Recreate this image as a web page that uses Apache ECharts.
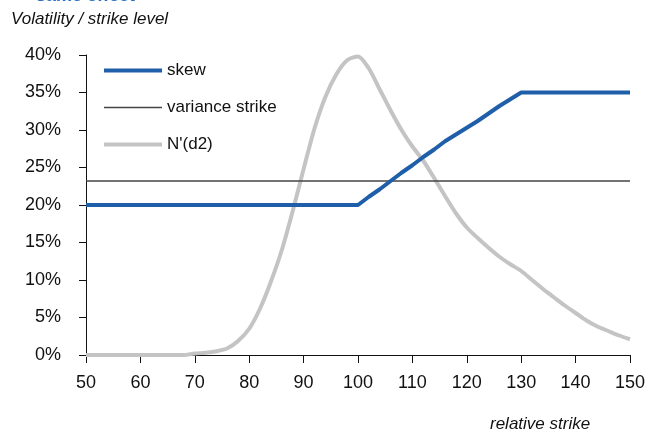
<!DOCTYPE html>
<html>
<head>
  <meta charset="UTF-8">
  <title>skew vs variance strike</title>
  <script src="https://cdn.jsdelivr.net/npm/echarts@6/dist/echarts.min.js"></script>
  <style>
    html, body { margin: 0; padding: 0; background: #fff; }
    #chart { width: 649px; height: 434px; }
  </style>
</head>
<body>
  <div id="chart"></div>
  <script>
    // relative strike levels
    const strikes = [50, 52, 54, 56, 58, 60, 62, 64, 66, 68, 70, 72, 74, 76, 78, 80, 82, 84, 86, 88,
      90, 92, 94, 96, 98, 100, 102, 104, 106, 108, 110, 112, 114, 116, 118, 120, 122, 124, 126, 128,
      130, 132, 134, 136, 138, 140, 142, 144, 146, 148, 150]

    // skew (vol %)
    const skew = [20, 20, 20, 20, 20, 20, 20, 20, 20, 20, 20, 20, 20, 20, 20, 20, 20, 20, 20, 20,
      20, 20, 20, 20, 20, 20, 21.1, 22.1, 23.2, 24.3, 25.3, 26.4, 27.4, 28.5, 29.4, 30.3, 31.2, 32.2, 33.2, 34.1,
      35, 35, 35, 35, 35, 35, 35, 35, 35, 35, 35]

    // N'(d2) scaled
    const nd2 = [0, 0, 0, 0, 0, 0, 0, 0, 0, 0, 0.2, 0.3, 0.5, 0.9, 1.9, 3.5, 6.2, 9.8, 14.0, 19.2,
      24.8, 30.2, 34.4, 37.4, 39.3, 39.8, 38.2, 35.4, 32.6, 30.0, 27.8, 25.9, 23.6, 21.2, 18.9, 17.0, 15.6, 14.3, 13.1, 12.1,
      11.2, 10.0, 8.8, 7.7, 6.6, 5.6, 4.6, 3.8, 3.2, 2.6, 2.1]

    const varianceStrike = 23.2
    const xTicks = { min: 50, max: 150, step: 10 }
    const yTicks = { min: 0, max: 40, step: 5 }

    const font = "'Liberation Sans', Arial, sans-serif"
    const blue = '#1f5ea8'
    const dark = '#444'
    const grey = '#c4c4c4'

    const chart = echarts.init(document.getElementById('chart'))
    const option = {
      animation: false,
      textStyle: { fontFamily: font },
      graphic: [
        {
          type: 'text', left: 36, top: -13,
          style: { text: 'same effect', fill: '#2a6dbf', font: "bold 18px 'Liberation Sans', Arial" }
        },
        {
          type: 'text', left: 11, top: 11,
          style: { text: 'Volatility / strike level', fill: '#111', font: "italic 17px 'Liberation Sans', Arial" }
        },
        {
          type: 'text', left: 490, top: 416,
          style: { text: 'relative strike', fill: '#111', font: "italic 17px 'Liberation Sans', Arial" }
        }
      ],
      legend: {
        orient: 'vertical',
        left: 97,
        top: 57,
        itemWidth: 58,
        itemHeight: 14,
        itemGap: 20,
        itemStyle: { opacity: 0 },
        textStyle: { fontSize: 17, color: '#111', fontFamily: font },
        data: [
          { name: 'skew', lineStyle: { color: blue, width: 4 } },
          { name: 'variance strike', lineStyle: { color: dark, width: 1.5 } },
          { name: "N'(d2)", lineStyle: { color: grey, width: 4 } }
        ]
      },
      grid: { left: 86, right: 19, top: 55, bottom: 79 },
      xAxis: {
        type: 'value',
        min: xTicks.min,
        max: xTicks.max,
        interval: xTicks.step,
        axisLine: { lineStyle: { color: '#111', width: 1 } },
        axisTick: { length: 8, lineStyle: { color: '#111' } },
        axisLabel: { margin: 19, fontSize: 18, color: '#111', fontFamily: font },
        splitLine: { show: false }
      },
      yAxis: {
        type: 'value',
        min: yTicks.min,
        max: yTicks.max,
        interval: yTicks.step,
        axisLine: { show: true, lineStyle: { color: '#111', width: 1 } },
        axisTick: { show: true, length: 7, lineStyle: { color: '#111' } },
        axisLabel: { margin: 25, fontSize: 18, color: '#111', fontFamily: font, formatter: '{value}%' },
        splitLine: { show: false }
      },
      series: [
        {
          name: 'skew',
          type: 'line',
          showSymbol: false,
          symbol: 'none',
          data: strikes.map((s, i) => [s, skew[i]]),
          lineStyle: { color: blue, width: 4 },
          itemStyle: { color: blue },
          z: 3
        },
        {
          name: 'variance strike',
          type: 'line',
          showSymbol: false,
          symbol: 'none',
          data: [[xTicks.min, varianceStrike], [xTicks.max, varianceStrike]],
          lineStyle: { color: dark, width: 1.5 },
          itemStyle: { color: dark },
          z: 2
        },
        {
          name: "N'(d2)",
          type: 'line',
          showSymbol: false,
          symbol: 'none',
          smooth: 0.25,
          data: strikes.map((s, i) => [s, nd2[i]]),
          lineStyle: { color: grey, width: 4 },
          itemStyle: { color: grey },
          z: 1
        }
      ]
    }
    chart.setOption(option)
  </script>
</body>
</html>
